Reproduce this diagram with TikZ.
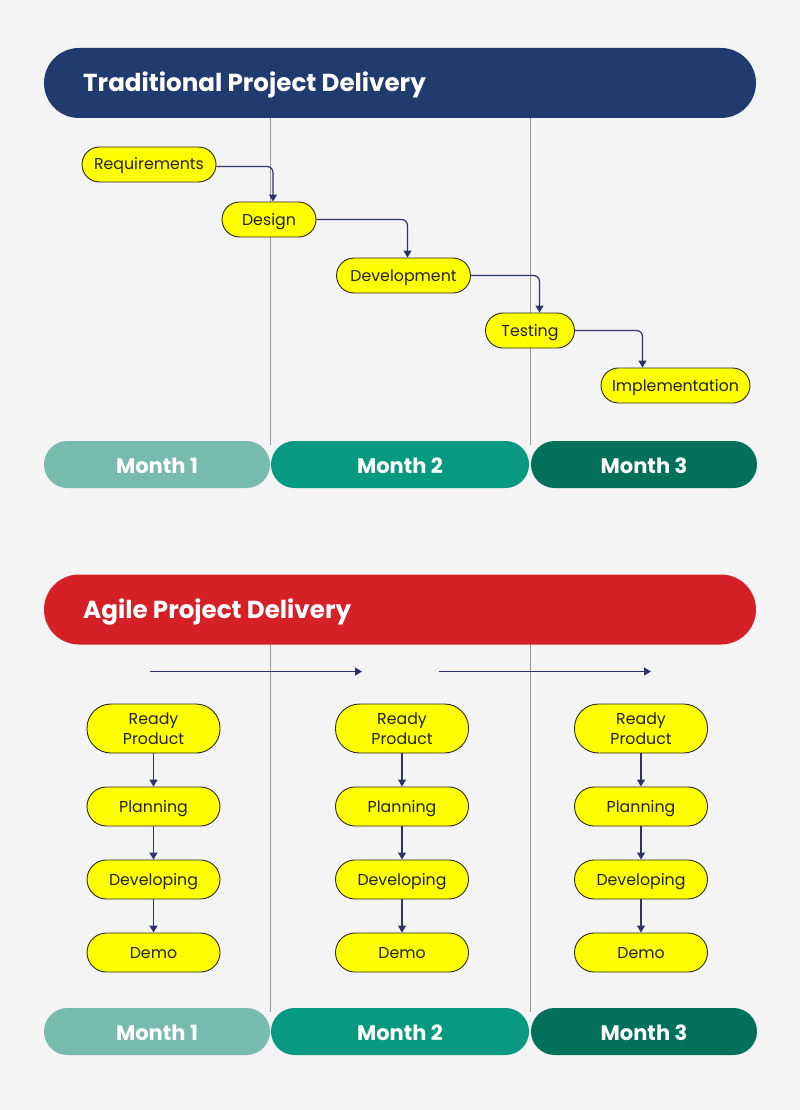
\documentclass[tikz,border=0pt]{standalone}
\usepackage{fontspec}
\setmainfont{Poppins}
\usetikzlibrary{arrows.meta}
\definecolor{bg}{HTML}{F4F4F4}
\definecolor{navy}{HTML}{213B6E}
\definecolor{redh}{HTML}{D62027}
\definecolor{mone}{HTML}{77BAAE}
\definecolor{mtwo}{HTML}{089A80}
\definecolor{mthree}{HTML}{03705C}
\definecolor{vgray}{HTML}{9A9A9A}
\definecolor{arrowc}{HTML}{2E3468}
\definecolor{boxfill}{HTML}{FFFF00}
\definecolor{boxline}{HTML}{2A2A2A}
\definecolor{boxtext}{HTML}{222222}
\begin{document}
\begin{tikzpicture}[x=1pt,y=-1pt,
  boxbase/.style={draw=boxline, line width=0.9pt, fill=boxfill,
    inner sep=0pt, align=center,
    font=\fontsize{15.8}{20}\selectfont, text=boxtext},
  box/.style={boxbase, rounded corners=17.5pt, minimum height=35pt,
    text height=12pt, text depth=1pt},
  abox/.style={box, minimum width=133pt, minimum height=39pt, rounded corners=19.5pt},
  rbox/.style={boxbase, minimum width=133pt, minimum height=49pt, rounded corners=24pt},
  flow/.style={draw=arrowc, line width=1.2pt, rounded corners=6pt,
    -{Triangle[width=8pt,length=7pt]}},
  month/.style={rounded corners=23.5pt, minimum height=47pt, inner sep=0pt,
    text=white, font=\bfseries\fontsize{21}{24}\selectfont,
    text height=18pt, text depth=0pt},
  header/.style={rounded corners=35pt, minimum width=712pt, minimum height=70pt, inner sep=0pt},
  htext/.style={anchor=west, inner sep=0pt, text=white, font=\bfseries\fontsize{24.6}{28}\selectfont,
    text height=18pt, text depth=0pt},
  vline/.style={draw=vgray, line width=0.8pt}
]
\fill[bg] (0,0) rectangle (800,1110);
\useasboundingbox (0,0) rectangle (800,1110);

% ---------- Traditional ----------
\draw[vline] (270,110) -- (270,445);
\draw[vline] (530,110) -- (530,445);
\node[header, fill=navy] (h1) at (400,83) {};
\node[htext] (h1t) at (83,83) {Traditional Project Delivery};

\node[box, minimum width=134pt] (req) at (149,164.5) {Requirements};
\node[box, minimum width=94pt]  (des) at (269,219.5) {Design};
\node[box, minimum width=134pt] (dev) at (403.5,275.5) {Development};
\node[box, minimum width=89pt]  (tst) at (530,330.5) {Testing};
\node[box, minimum width=149pt] (imp) at (675.5,385.5) {Implementation};

\draw[flow] ([yshift=-2pt]req.east) -| ([xshift=4pt]des.north);
\draw[flow] (des.east) -| ([xshift=4pt]dev.north);
\draw[flow] (dev.east) -| ([xshift=9.5pt]tst.north);
\draw[flow] (tst.east) -| ([xshift=-33pt]imp.north);

\node[month, fill=mone, minimum width=226pt] (m1a) at (157,464.5) {Month 1};
\node[month, fill=mtwo, minimum width=258pt] (m2a) at (400,464.5) {Month 2};
\node[month, fill=mthree, minimum width=226pt] (m3a) at (644,464.5) {Month 3};

% ---------- Agile ----------
\draw[vline] (270,640) -- (270,1012);
\draw[vline] (530,640) -- (530,1012);
\node[header, fill=redh] (h2) at (400,609.5) {};
\node[htext] (h2t) at (83,609.5) {Agile Project Delivery};

\coordinate (s1) at (150,671.5);
\coordinate (e1) at (362,671.5);
\coordinate (s2) at (439,671.5);
\coordinate (e2) at (651,671.5);
\draw[flow] (s1) -- (e1);
\draw[flow] (s2) -- (e2);

\foreach \c/\x in {a/153.5,b/402,c/641} {
  \node[rbox] (rp\c) at (\x,728.5) {Ready\\Product};
  \node[abox] (pl\c) at (\x,806.5) {Planning};
  \node[abox] (dv\c) at (\x,879.5) {Developing};
  \node[abox] (dm\c) at (\x,952.5) {Demo};
  \draw[flow] (rp\c.south) -- (pl\c.north);
  \draw[flow] (pl\c.south) -- (dv\c.north);
  \draw[flow] (dv\c.south) -- (dm\c.north);
}

\node[month, fill=mone, minimum width=226pt] (m1b) at (157,1031.5) {Month 1};
\node[month, fill=mtwo, minimum width=258pt] (m2b) at (400,1031.5) {Month 2};
\node[month, fill=mthree, minimum width=226pt] (m3b) at (644,1031.5) {Month 3};
\end{tikzpicture}
\end{document}
